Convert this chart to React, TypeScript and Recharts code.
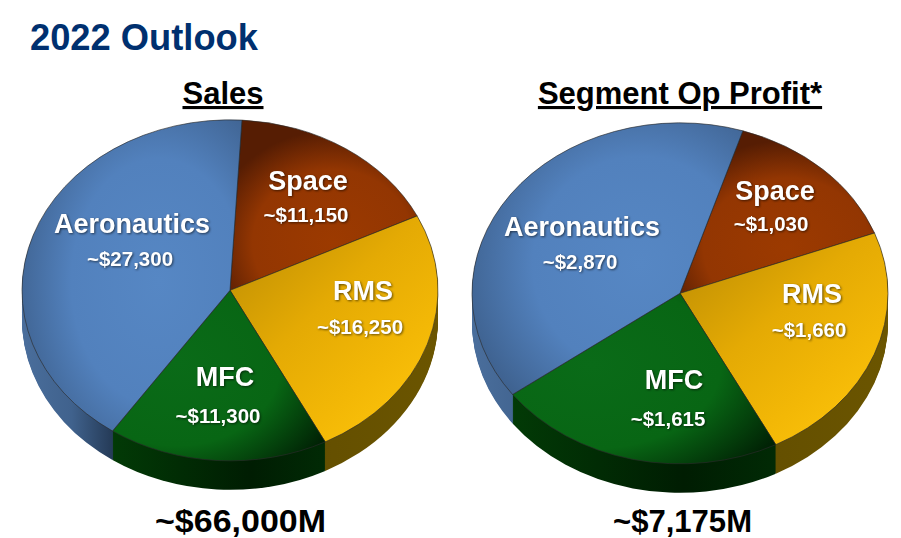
import React from "react";
import { PieChart, Pie, Cell } from "recharts";

const segments = ["Space", "RMS", "MFC", "Aeronautics"];
const salesValues = [11150, 16250, 11300, 27300];
const profitValues = [1030, 1660, 1615, 2870];
const salesLabels = ["~$11,150", "~$16,250", "~$11,300", "~$27,300"];
const profitLabels = ["~$1,030", "~$1,660", "~$1,615", "~$2,870"];
const chartTitles = ["Sales", "Segment Op Profit*"];
const chartTotals = ["~$66,000M", "~$7,175M"];
const pageTitle = "2022 Outlook";

const topFills = ["url(#gSpace)", "url(#gRms)", "url(#gMfc)", "url(#gAero)"];
const wallFills = ["#5a1e00", "url(#wRms)", "url(#wMfc)", "url(#wAero)"];

const RX = 208;
const RY = 170.5;
const RATIO = RY / RX;
const DEPTH = 29;
const PIE_CY = 220;
const wallSteps = Array.from({ length: DEPTH }, (_, i) => DEPTH - i);

type Lay = { x: number; y: number };
const salesNamePos: Lay[] = [{ x: 308, y: 190 }, { x: 363, y: 300 }, { x: 225, y: 386 }, { x: 132, y: 233 }];
const salesValuePos: Lay[] = [{ x: 306, y: 222 }, { x: 360, y: 334 }, { x: 218, y: 423 }, { x: 130, y: 266 }];
const profitNamePos: Lay[] = [{ x: 775, y: 200 }, { x: 812, y: 303 }, { x: 674, y: 389 }, { x: 582, y: 236 }];
const profitValuePos: Lay[] = [{ x: 771, y: 231 }, { x: 809, y: 337 }, { x: 668, y: 426 }, { x: 580, y: 269 }];

function Pie3D({ values, cx, cy, tilt }: { values: number[]; cx: number; cy: number; tilt: number }) {
  const data = segments.map((name, i) => ({ name, value: values[i] }));
  const start = 90 - tilt;
  const end = start - 360;
  return (
    <div
      style={{
        position: "absolute",
        left: cx - 230,
        top: cy - PIE_CY * RATIO,
        width: 460,
        height: 480,
        transform: `scaleY(${RATIO})`,
        transformOrigin: "0 0",
      }}
    >
      <PieChart width={460} height={480} margin={{ top: 0, right: 0, bottom: 0, left: 0 }}>
        {wallSteps.map((d) => (
          <Pie
            key={d}
            data={data}
            dataKey="value"
            cx={230}
            cy={PIE_CY + d / RATIO}
            innerRadius={0}
            outerRadius={RX}
            startAngle={start}
            endAngle={end}
            stroke="none"
            isAnimationActive={false}
            rootTabIndex={-1}
          >
            {data.map((_, i) => (
              <Cell key={i} fill={wallFills[i]} stroke="none" />
            ))}
          </Pie>
        ))}
        <Pie
          data={data}
          dataKey="value"
          cx={230}
          cy={PIE_CY}
          innerRadius={0}
          outerRadius={RX}
          startAngle={start}
          endAngle={end}
          isAnimationActive={false}
          rootTabIndex={-1}
        >
          {data.map((_, i) => (
            <Cell key={i} fill={topFills[i]} stroke="#2b2b2b" strokeWidth={0.7} />
          ))}
        </Pie>
      </PieChart>
    </div>
  );
}

const labelFont = "'Liberation Sans', Arial, sans-serif";
const shadow = "drop-shadow(1px 1px 1px rgba(0,0,0,0.55))";

function Labels({ names, values, namePos, valuePos }: { names: string[]; values: string[]; namePos: Lay[]; valuePos: Lay[] }) {
  return (
    <>
      {names.map((n, i) => (
        <g key={n} style={{ filter: shadow }}>
          <text x={namePos[i].x} y={namePos[i].y} textAnchor="middle" fontSize={27} fontWeight={700} fill="#fff">
            {n}
          </text>
          <text x={valuePos[i].x} y={valuePos[i].y} textAnchor="middle" fontSize={20.5} fontWeight={700} fill="#fff">
            {values[i]}
          </text>
        </g>
      ))}
    </>
  );
}

export default function App() {
  return (
    <div style={{ position: "absolute", left: 0, top: 0, width: 901, height: 538, background: "#fff", overflow: "hidden" }}>
      <svg width={0} height={0} style={{ position: "absolute" }}>
        <defs>
          <radialGradient id="gAero" cx="0.62" cy="0.52" r="0.72">
            <stop offset="0" stopColor="#5687c4" />
            <stop offset="0.55" stopColor="#5281bd" />
            <stop offset="1" stopColor="#3b5c87" />
          </radialGradient>
          <radialGradient id="gSpace" cx="0.55" cy="0.72" r="0.66">
            <stop offset="0" stopColor="#9c3a00" />
            <stop offset="0.65" stopColor="#933602" />
            <stop offset="1" stopColor="#561d03" />
          </radialGradient>
          <linearGradient id="gRms" x1="0" y1="0" x2="0.85" y2="1">
            <stop offset="0" stopColor="#b88a04" />
            <stop offset="0.45" stopColor="#e4aa04" />
            <stop offset="0.75" stopColor="#f3b806" />
            <stop offset="1" stopColor="#fdc50c" />
          </linearGradient>
          <radialGradient id="gMfc" cx="0.3" cy="0.42" r="0.82">
            <stop offset="0" stopColor="#0a6b18" />
            <stop offset="0.6" stopColor="#086614" />
            <stop offset="1" stopColor="#012305" />
          </radialGradient>
          <linearGradient id="wAero" x1="0" y1="0" x2="0.9" y2="0">
            <stop offset="0" stopColor="#4a6e9c" />
            <stop offset="0.25" stopColor="#40628d" />
            <stop offset="0.45" stopColor="#263c59" />
            <stop offset="1" stopColor="#263c59" />
          </linearGradient>
          <linearGradient id="wMfc" x1="0" y1="0" x2="1" y2="0">
            <stop offset="0" stopColor="#023a06" />
            <stop offset="0.65" stopColor="#001d02" />
            <stop offset="1" stopColor="#012a05" />
          </linearGradient>
          <linearGradient id="wRms" x1="0" y1="0" x2="1" y2="0">
            <stop offset="0" stopColor="#5f4b00" />
            <stop offset="1" stopColor="#6b5500" />
          </linearGradient>
        </defs>
      </svg>

      <Pie3D values={salesValues} cx={230} cy={290} tilt={3.3} />
      <Pie3D values={profitValues} cx={679.5} cy={293} tilt={17.6} />

      <svg width={901} height={538} style={{ position: "absolute", left: 0, top: 0, fontFamily: labelFont }}>
        <text x={30} y={50} fontSize={36.3} fontWeight={700} fill="#00306f">
          {pageTitle}
        </text>
        <text x={223} y={104} textAnchor="middle" fontSize={31} fontWeight={700} fill="#000" textDecoration="underline">
          {chartTitles[0]}
        </text>
        <text x={680} y={104} textAnchor="middle" fontSize={31} fontWeight={700} fill="#000" textDecoration="underline">
          {chartTitles[1]}
        </text>
        <Labels names={segments} values={salesLabels} namePos={salesNamePos} valuePos={salesValuePos} />
        <Labels names={segments} values={profitLabels} namePos={profitNamePos} valuePos={profitValuePos} />
        <text x={240.5} y={532} textAnchor="middle" fontSize={32} fontWeight={700} fill="#000" textLength={171} lengthAdjust="spacingAndGlyphs">
          {chartTotals[0]}
        </text>
        <text x={682.5} y={532} textAnchor="middle" fontSize={32} fontWeight={700} fill="#000" textLength={139} lengthAdjust="spacingAndGlyphs">
          {chartTotals[1]}
        </text>
      </svg>
    </div>
  );
}
